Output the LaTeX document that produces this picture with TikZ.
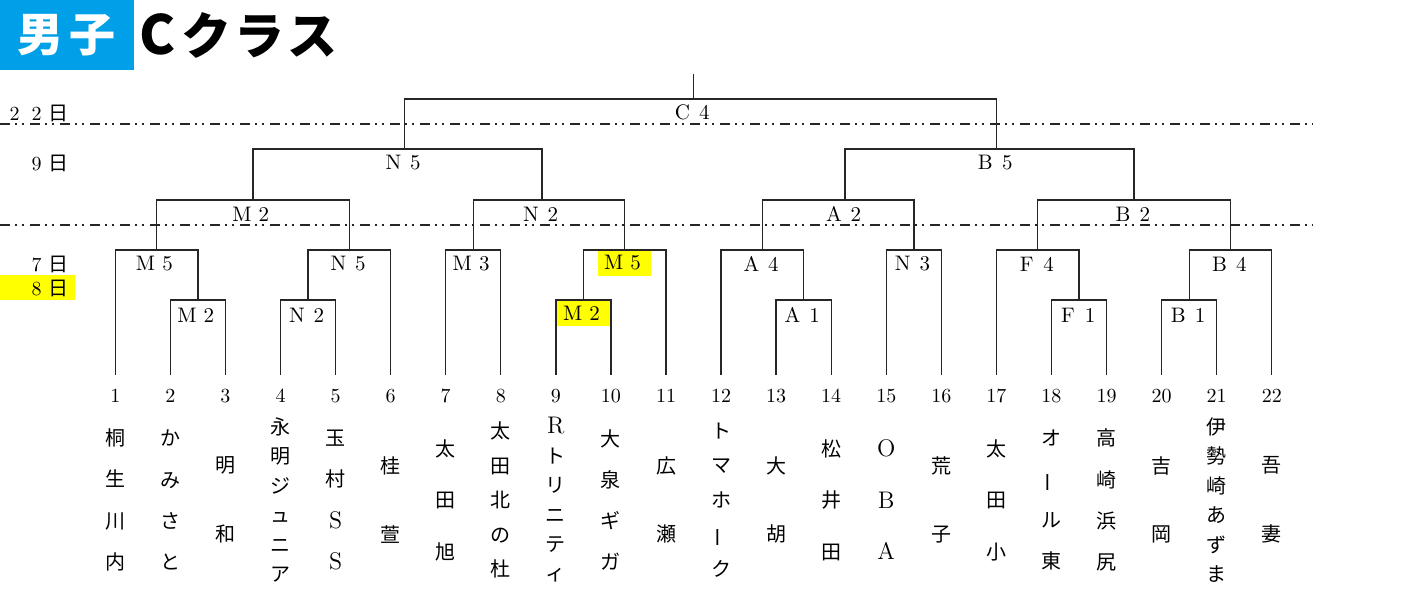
\documentclass[tikz,border=0pt]{standalone}
\usepackage{fontspec}
\newfontfamily\jp{Noto Sans CJK JP}
\usetikzlibrary{calc}
\definecolor{titleblue}{HTML}{00A0E9}
\definecolor{hl}{HTML}{FFFF00}
\newcommand\fwc[1]{\makebox[11pt]{#1}}
\newcommand\vbar{\rotatebox[origin=c]{90}{ー}}
\newcommand\lm[1]{{\rmfamily\fontsize{12}{12}\selectfont #1}}
\tikzset{
  bline/.style={line width=0.7pt, draw=black!85},
  dashln/.style={line width=0.7pt, draw=black!85, dash pattern=on 5pt off 2.5pt on 1pt off 2.25pt on 1pt off 3.25pt},
  lab/.style={font=\fontsize{10.5}{12}\selectfont, inner sep=0pt},
  hlab/.style={lab, fill=hl, minimum width=26.5pt, minimum height=12.5pt},
  num/.style={font=\fontsize{10}{12}\selectfont, inner sep=0pt},
  datelab/.style={font=\fontsize{10}{12}\selectfont, inner sep=0pt, anchor=east},
  vn/.style={font=\jp\fontsize{10}{#1}\selectfont, align=center, inner sep=0pt}
}
\begin{document}
\begin{tikzpicture}[x=0.5pt,y=-0.5pt]
\useasboundingbox (0,0) rectangle (1404,590);
% title
\fill[titleblue] (0,0) rectangle (134,70);
\node[font=\jp\bfseries\fontsize{23}{23}\selectfont, text=white, inner sep=0pt] (t1) at (67,35) {男\hspace{3pt}子};
\node[font=\jp\bfseries\fontsize{25}{25}\selectfont, anchor=west, inner sep=0pt] (t2) at (139,35) {\fontsize{27}{27}\selectfont C\hspace{3pt}\fontsize{25}{25}\selectfont ク\hspace{1.5pt}ラ\hspace{1.5pt}ス};
% dash-dot lines
\coordinate (d1a) at (0,124); \coordinate (d1b) at (1313,124);
\coordinate (d2a) at (0,225); \coordinate (d2b) at (1313,225);
\draw[dashln] (d1a) -- (d1b);
\draw[dashln] (d2a) -- (d2b);
% date labels
\fill[hl] (0,275) rectangle (75,300);
\node[datelab] (day22) at (70,113) {\fwc{2}\fwc{2}\fwc{\jp 日}};
\node[datelab] (day9) at (70,163) {\fwc{9}\fwc{\jp 日}};
\node[datelab] (day7) at (70,264) {\fwc{7}\fwc{\jp 日}};
\node[datelab] (day8) at (70,288) {\fwc{8}\fwc{\jp 日}};
% leaves
\foreach \i in {1,...,22} {
  \coordinate (L\i) at ({115.3+55.07*(\i-1)},375);
  \node[num] (n\i) at ({115.3+55.07*(\i-1)},396) {\i};
}
% match junctions
\coordinate (mA) at (197.9,300);
\coordinate (mB) at (308.0,300);
\coordinate (mC) at (583.4,300);
\coordinate (mD) at (803.6,300);
\coordinate (mE) at (1079.0,300);
\coordinate (mF) at (1189.2,300);
\coordinate (qG) at (156.6,250);
\coordinate (qH) at (349.4,250);
\coordinate (qI) at (473.3,250);
\coordinate (qJ) at (624.7,250);
\coordinate (qK) at (762.4,250);
\coordinate (qL) at (913.8,250);
\coordinate (qM) at (1037.7,250);
\coordinate (qN) at (1230.5,250);
\coordinate (sO) at (253.0,200);
\coordinate (sP) at (542.0,200);
\coordinate (sQ) at (845.0,200);
\coordinate (sR) at (1134.0,200);
\coordinate (tS) at (404.5,149);
\coordinate (tT) at (996.4,149);
\coordinate (fU) at (693.5,99);
\coordinate (top) at (693.5,74);
% brackets
\draw[bline] (L2) |- (mA) -| (L3);
\draw[bline] (L4) |- (mB) -| (L5);
\draw[bline] (L9) |- (mC) -| (L10);
\draw[bline] (L13) |- (mD) -| (L14);
\draw[bline] (L18) |- (mE) -| (L19);
\draw[bline] (L20) |- (mF) -| (L21);
\draw[bline] (L1) |- (qG) -| (mA);
\draw[bline] (mB) |- (qH) -| (L6);
\draw[bline] (L7) |- (qI) -| (L8);
\draw[bline] (mC) |- (qJ) -| (L11);
\draw[bline] (L12) |- (qK) -| (mD);
\draw[bline] (L15) |- (qL) -| (L16);
\draw[bline] (L17) |- (qM) -| (mE);
\draw[bline] (mF) |- (qN) -| (L22);
\draw[bline] (qG) |- (sO) -| (qH);
\draw[bline] (qI) |- (sP) -| (qJ);
\draw[bline] (qK) |- (sQ) -| (qL);
\draw[bline] (qM) |- (sR) -| (qN);
\draw[bline] (sO) |- (tS) -| (sP);
\draw[bline] (sQ) |- (tT) -| (sR);
\draw[bline] (tS) |- (fU) -| (tT);
\draw[bline] (fU) -- (top);
% match labels
\node[lab] (lA) at ($(mA)+(0,15)$) {\fwc{M}\fwc{2}};
\node[lab] (lB) at ($(mB)+(0,15)$) {\fwc{N}\fwc{2}};
\node[hlab] (lC) at ($(mC)+(0.3,13)$) {\fwc{M}\fwc{2}};
\node[lab] (lD) at ($(mD)+(0,15)$) {\fwc{A}\fwc{1}};
\node[lab] (lE) at ($(mE)+(0,15)$) {\fwc{F}\fwc{1}};
\node[lab] (lF) at ($(mF)+(0,15)$) {\fwc{B}\fwc{1}};
\node[lab] (lG) at ($(qG)+(0,14)$) {\fwc{M}\fwc{5}};
\node[lab] (lH) at ($(qH)+(0,14)$) {\fwc{N}\fwc{5}};
\node[lab] (lI) at ($(qI)+(0,14)$) {\fwc{M}\fwc{3}};
\node[hlab] (lJ) at ($(qJ)+(0,13)$) {\fwc{M}\fwc{5}};
\node[lab] (lK) at ($(qK)+(0,14)$) {\fwc{A}\fwc{4}};
\node[lab] (lL) at ($(qL)+(0,14)$) {\fwc{N}\fwc{3}};
\node[lab] (lM) at ($(qM)+(0,14)$) {\fwc{F}\fwc{4}};
\node[lab] (lN) at ($(qN)+(0,14)$) {\fwc{B}\fwc{4}};
\node[lab] (lO) at ($(sO)+(0,14)$) {\fwc{M}\fwc{2}};
\node[lab] (lP) at ($(sP)+(0,14)$) {\fwc{N}\fwc{2}};
\node[lab] (lQ) at ($(sQ)+(0,14)$) {\fwc{A}\fwc{2}};
\node[lab] (lR) at ($(sR)+(0,14)$) {\fwc{B}\fwc{2}};
\node[lab] (lS) at ($(tS)+(0,14)$) {\fwc{N}\fwc{5}};
\node[lab] (lT) at ($(tT)+(0,14)$) {\fwc{B}\fwc{5}};
\node[lab] (lU) at ($(fU)+(0,13)$) {\fwc{C}\fwc{4}};
% team names
\node[vn=20.6pt] (w1) at ($(L1)+(0,125)$) {桐\\生\\川\\内};
\node[vn=20.6pt] (w2) at ($(L2)+(0,125)$) {か\\み\\さ\\と};
\node[vn=34.3pt] (w3) at ($(L3)+(0,125)$) {明\\和};
\node[vn=14.7pt] (w4) at ($(L4)+(0,125)$) {永\\明\\ジ\\ュ\\ニ\\ア};
\node[vn=20.6pt] (w5) at ($(L5)+(0,125)$) {玉\\村\\\lm{S}\\\lm{S}};
\node[vn=34.3pt] (w6) at ($(L6)+(0,125)$) {桂\\萱};
\node[vn=25.75pt] (w7) at ($(L7)+(0,125)$) {太\\田\\旭};
\node[vn=17.2pt] (w8) at ($(L8)+(0,125)$) {太\\田\\北\\の\\杜};
\node[vn=14.7pt] (w9) at ($(L9)+(0,125)$) {\lm{R}\\ト\\リ\\ニ\\テ\\ィ};
\node[vn=20.6pt] (w10) at ($(L10)+(0,125)$) {大\\泉\\ギ\\ガ};
\node[vn=34.3pt] (w11) at ($(L11)+(0,125)$) {広\\瀬};
\node[vn=17.2pt] (w12) at ($(L12)+(0,125)$) {ト\\マ\\ホ\\\vbar\\ク};
\node[vn=34.3pt] (w13) at ($(L13)+(0,125)$) {大\\胡};
\node[vn=25.75pt] (w14) at ($(L14)+(0,125)$) {松\\井\\田};
\node[vn=25.75pt] (w15) at ($(L15)+(0,125)$) {\lm{O}\\\lm{B}\\\lm{A}};
\node[vn=34.3pt] (w16) at ($(L16)+(0,125)$) {荒\\子};
\node[vn=25.75pt] (w17) at ($(L17)+(0,125)$) {太\\田\\小};
\node[vn=20.6pt] (w18) at ($(L18)+(0,125)$) {オ\\\vbar\\ル\\東};
\node[vn=20.6pt] (w19) at ($(L19)+(0,125)$) {高\\崎\\浜\\尻};
\node[vn=34.3pt] (w20) at ($(L20)+(0,125)$) {吉\\岡};
\node[vn=14.7pt] (w21) at ($(L21)+(0,125)$) {伊\\勢\\崎\\あ\\ず\\ま};
\node[vn=34.3pt] (w22) at ($(L22)+(0,125)$) {吾\\妻};
\end{tikzpicture}
\end{document}
